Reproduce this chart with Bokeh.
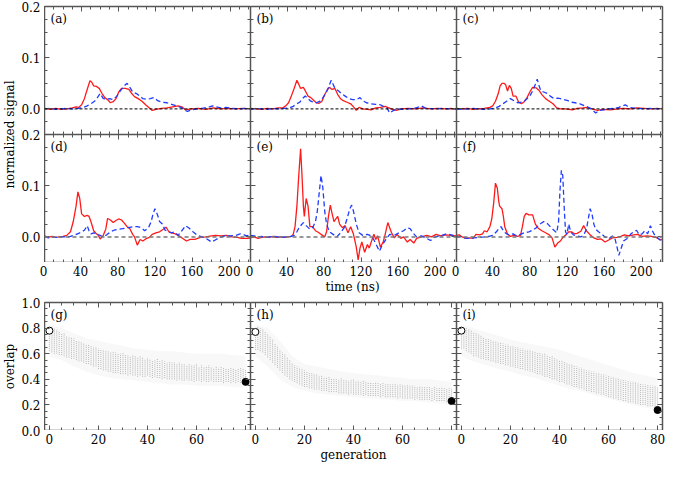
from bokeh.plotting import figure
from bokeh.models import (Range1d, LinearAxis, SingleIntervalTicker, FixedTicker,
                          PrintfTickFormatter, Label, Span, GridPlot, CustomLabelingPolicy)
from bokeh.embed import file_html
from bokeh.resources import INLINE

# ---------------- data ----------------
TIME_RANGE = (0, 222)
SIG_RANGE = (-0.05, 0.2)
GEN_RANGE = (-2, 82)
OVL_RANGE = (0.0, 1.0)

time_tick_labels = [[0, 40, 80, 120, 160, 200]] * 3
sig_tick_labels = [0.0, 0.1, 0.2]
ovl_tick_labels = [0.0, 0.2, 0.4, 0.6, 0.8, 1.0]
gen_tick_labels = [[0, 20, 40, 60], [0, 20, 40, 60], [0, 20, 40, 60, 80]]

panel_letters = [["(a)", "(b)", "(c)"], ["(d)", "(e)", "(f)"], ["(g)", "(h)", "(i)"]]

# time (ns), normalized signal  -- red solid / blue dashed
a_red = [(0,0.001),(6,-0.001),(12,0.001),(18,-0.001),(24,0.0),(30,0.002),(34,0.004),(37,0.003),(40,0.008),(43,0.02),(46,0.038),(49,0.055),(51,0.052),(53,0.045),(56,0.044),(59,0.04),(62,0.03),(65,0.022),(68,0.018),(71,0.012),(74,0.014),(77,0.02),(80,0.033),(83,0.04),(87,0.04),(91,0.038),(94,0.03),(97,0.024),(101,0.02),(105,0.015),(109,0.008),(113,0.002),(116,-0.003),(120,-0.001),(126,0.001),(132,0.002),(138,0.004),(144,0.006),(148,0.004),(152,-0.002),(158,0.0),(166,0.001),(174,-0.001),(182,0.002),(190,0.0),(198,0.001),(206,0.0),(214,0.001),(222,0.0)]
a_blue = [(0,0.0),(6,0.001),(12,-0.001),(18,0.0),(24,0.001),(30,0.0),(36,0.001),(42,0.003),(46,0.006),(50,0.01),(54,0.015),(57,0.022),(60,0.03),(63,0.021),(66,0.018),(70,0.02),(74,0.018),(78,0.025),(82,0.036),(86,0.045),(89,0.05),(92,0.042),(95,0.033),(99,0.03),(102,0.026),(106,0.02),(110,0.019),(114,0.02),(118,0.022),(122,0.016),(127,0.013),(132,0.012),(137,0.009),(142,0.006),(147,0.003),(151,-0.002),(154,-0.005),(158,-0.002),(164,0.0),(170,0.001),(176,0.003),(181,0.006),(185,0.004),(190,0.002),(196,0.003),(202,0.001),(210,0.0),(216,0.001),(222,0.0)]
b_red = [(0,0.001),(6,0.0),(12,-0.001),(18,0.001),(24,0.0),(30,0.002),(35,0.002),(38,0.006),(41,0.012),(44,0.025),(47,0.04),(50,0.056),(52,0.048),(54,0.04),(57,0.042),(60,0.032),(62,0.025),(65,0.022),(68,0.017),(71,0.012),(74,0.011),(77,0.015),(80,0.028),(83,0.038),(85,0.042),(88,0.038),(91,0.04),(94,0.028),(97,0.02),(100,0.016),(104,0.013),(108,0.01),(111,0.004),(114,-0.003),(117,0.003),(121,0.0),(126,-0.001),(130,-0.002),(135,0.002),(140,0.003),(145,0.005),(149,0.002),(153,-0.001),(157,-0.003),(163,0.0),(170,0.001),(178,0.0),(186,0.002),(194,0.0),(202,0.001),(210,0.0),(216,0.001),(222,-0.001)]
b_blue = [(0,-0.001),(6,0.001),(12,0.0),(18,-0.001),(24,0.001),(30,0.0),(36,0.001),(42,0.002),(46,0.005),(50,0.01),(53,0.013),(56,0.02),(59,0.025),(62,0.02),(65,0.015),(68,0.013),(71,0.012),(75,0.015),(78,0.022),(81,0.03),(84,0.042),(87,0.056),(89,0.048),(91,0.04),(95,0.035),(98,0.03),(102,0.025),(106,0.02),(110,0.018),(114,0.018),(118,0.022),(121,0.016),(125,0.012),(130,0.01),(135,0.009),(140,0.008),(144,0.004),(147,0.002),(150,-0.008),(154,-0.003),(158,0.0),(164,-0.001),(170,0.0),(176,0.001),(180,0.003),(184,0.006),(188,0.002),(193,0.001),(200,0.0),(206,0.001),(214,0.0),(222,0.0)]
c_red = [(0,0.001),(6,0.0),(12,0.001),(18,-0.001),(24,0.0),(30,0.001),(36,0.003),(39,0.006),(42,0.015),(45,0.03),(47,0.045),(49,0.05),(51,0.05),(53,0.047),(55,0.035),(57,0.046),(59,0.04),(61,0.025),(64,0.025),(67,0.013),(70,0.01),(73,0.014),(76,0.022),(79,0.033),(82,0.042),(86,0.041),(89,0.036),(92,0.028),(96,0.02),(100,0.015),(104,0.01),(108,0.002),(112,0.0),(117,0.0),(121,-0.001),(125,-0.002),(130,0.001),(136,0.002),(141,0.003),(146,0.0),(152,-0.003),(158,-0.001),(166,-0.002),(174,0.0),(180,0.001),(188,0.0),(194,0.002),(202,0.001),(210,0.0),(216,0.001),(222,0.0)]
c_blue = [(0,0.0),(6,-0.001),(12,0.0),(18,0.001),(24,0.0),(30,-0.001),(36,0.0),(42,0.002),(46,0.005),(50,0.01),(54,0.015),(58,0.02),(62,0.016),(66,0.012),(70,0.013),(73,0.015),(76,0.02),(79,0.025),(82,0.035),(85,0.048),(87,0.058),(89,0.045),(91,0.035),(94,0.033),(98,0.03),(101,0.025),(105,0.02),(109,0.021),(112,0.02),(116,0.018),(120,0.016),(124,0.013),(128,0.012),(133,0.01),(137,0.007),(141,0.004),(145,0.0),(150,-0.008),(154,-0.003),(158,-0.002),(164,0.0),(170,0.001),(175,0.003),(179,0.006),(182,0.008),(186,0.003),(190,0.002),(196,0.001),(202,0.0),(210,0.001),(216,0.0),(222,0.001)]
d_red = [(0,0.002),(4,-0.001),(8,0.001),(12,-0.001),(16,0.0),(20,0.001),(24,0.003),(28,0.01),(31,0.03),(34,0.06),(36,0.088),(38,0.075),(40,0.045),(43,0.04),(46,0.042),(48,0.04),(50,0.03),(53,0.012),(56,0.006),(58,0.003),(60,-0.004),(63,0.002),(66,0.015),(68,0.036),(71,0.033),(74,0.028),(77,0.032),(80,0.035),(83,0.033),(86,0.027),(89,0.02),(92,0.016),(95,0.005),(97,0.0),(100,-0.016),(103,-0.005),(106,-0.008),(109,-0.004),(113,-0.001),(116,0.005),(120,0.008),(124,0.01),(128,0.015),(131,0.019),(134,0.01),(137,0.008),(141,0.006),(145,0.002),(149,-0.003),(153,-0.008),(157,-0.005),(162,-0.005),(168,-0.001),(174,0.0),(180,0.002),(184,0.003),(190,0.002),(196,0.003),(202,0.0),(208,-0.001),(212,-0.003),(218,-0.003),(222,-0.002)]
d_blue = [(0,0.001),(4,-0.002),(8,0.0),(12,-0.001),(18,0.0),(24,0.0),(28,0.001),(33,0.004),(38,0.008),(43,0.013),(46,0.022),(48,0.012),(50,0.006),(53,0.008),(57,0.005),(60,0.003),(63,0.0),(67,0.004),(71,0.01),(75,0.013),(79,0.015),(84,0.016),(90,0.018),(96,0.02),(100,0.02),(104,0.018),(108,0.012),(112,0.018),(115,0.03),(117,0.045),(119,0.055),(122,0.042),(124,0.03),(127,0.025),(130,0.013),(134,0.01),(137,0.008),(140,0.01),(144,0.003),(148,0.012),(152,0.022),(156,0.017),(160,0.01),(165,0.003),(170,0.0),(175,-0.004),(180,-0.01),(184,-0.006),(188,-0.002),(194,0.002),(200,0.002),(206,0.003),(211,0.006),(215,0.004),(218,0.002),(222,0.004)]
e_red = [(0,-0.002),(4,0.0),(8,-0.003),(12,-0.001),(16,0.0),(20,-0.001),(24,0.001),(28,-0.001),(32,0.0),(36,-0.001),(40,0.0),(44,0.001),(46,0.005),(48,0.02),(50,0.06),(52,0.12),(54,0.172),(55.5,0.12),(57,0.06),(58,0.04),(60,0.075),(62,0.06),(64,0.02),(67,0.02),(70,0.012),(73,0.009),(76,0.005),(80,0.0),(82,0.01),(84,0.04),(86,0.062),(88,0.045),(90,0.03),(92,0.035),(94,0.04),(96,0.025),(99,0.018),(102,0.022),(105,0.008),(108,0.02),(111,0.005),(114,-0.02),(116,-0.045),(118,-0.022),(120,-0.01),(123,-0.03),(126,-0.015),(128,-0.022),(131,-0.005),(133,0.005),(135,-0.005),(137,0.002),(140,-0.02),(143,-0.01),(145,0.004),(148,0.028),(150,0.018),(152,0.008),(155,-0.002),(158,0.005),(162,-0.003),(165,0.0),(169,-0.01),(172,-0.005),(176,-0.012),(179,-0.003),(184,0.0),(190,0.003),(195,0.0),(200,0.005),(205,0.002),(210,0.004),(216,0.003),(222,0.002)]
e_blue = [(0,0.003),(4,0.002),(8,0.0),(12,0.001),(16,-0.001),(20,0.0),(26,0.001),(32,-0.001),(38,0.0),(44,0.001),(47,0.003),(50,0.01),(53,0.02),(57,0.028),(60,0.022),(64,0.015),(67,0.018),(70,0.03),(72,0.05),(74,0.085),(76,0.12),(78,0.095),(80,0.05),(82,0.025),(85,0.01),(89,0.005),(93,0.0),(97,0.008),(101,0.018),(104,0.035),(107,0.055),(109,0.062),(111,0.05),(114,0.025),(117,0.008),(121,0.003),(126,0.005),(131,0.001),(135,-0.013),(139,-0.028),(142,-0.016),(146,-0.005),(150,0.005),(155,0.003),(160,0.008),(165,0.012),(169,0.018),(172,0.016),(175,0.008),(179,0.0),(184,0.002),(189,-0.002),(194,-0.007),(199,0.0),(205,0.002),(211,0.006),(216,0.004),(222,0.001)]
f_red = [(0,0.003),(3,0.004),(6,0.0),(10,-0.003),(14,-0.002),(18,-0.003),(21,0.005),(25,0.004),(28,0.006),(30,0.012),(33,0.01),(36,0.02),(38,0.035),(40,0.065),(42,0.105),(44,0.095),(45.5,0.07),(46.5,0.06),(49,0.055),(50.5,0.04),(52,0.02),(55,0.005),(58,0.001),(62,0.003),(66,0.001),(69,0.003),(71,0.02),(73,0.04),(75,0.046),(78,0.043),(82,0.043),(85,0.025),(88,0.017),(92,0.012),(96,0.008),(100,0.004),(103,-0.002),(106,-0.02),(109,-0.012),(112,-0.008),(115,0.0),(118,0.004),(121,0.01),(124,0.01),(127,0.006),(130,0.007),(134,0.011),(137,0.022),(140,0.012),(144,0.004),(148,-0.002),(152,-0.005),(156,-0.004),(160,-0.01),(164,-0.006),(168,-0.002),(173,-0.001),(177,0.001),(181,0.004),(186,0.002),(191,0.004),(195,0.005),(200,0.001),(205,0.002),(210,0.001),(215,-0.001),(219,-0.005),(222,-0.006)]
f_blue = [(0,-0.001),(4,0.001),(8,-0.002),(12,-0.003),(18,-0.002),(24,-0.001),(30,0.0),(35,0.001),(39,0.003),(43,0.01),(46,0.017),(48,0.02),(51,0.01),(54,0.006),(57,0.004),(61,0.006),(65,0.002),(69,0.005),(73,0.008),(78,0.01),(82,0.013),(86,0.018),(90,0.025),(94,0.03),(98,0.026),(102,0.018),(105,0.013),(108,0.008),(110,0.03),(111.5,0.09),(113,0.13),(114.5,0.12),(116,0.06),(117.5,0.01),(119,0.005),(121,0.025),(123,0.01),(126,0.004),(130,0.002),(134,0.0),(137,0.003),(140,0.015),(142,0.035),(144,0.055),(146,0.045),(148,0.025),(150,0.015),(153,0.01),(156,0.006),(160,0.0),(164,-0.004),(168,0.002),(171,-0.005),(173,-0.02),(175,-0.036),(177,-0.025),(180,-0.008),(184,-0.003),(188,0.006),(191,0.01),(194,0.013),(197,0.004),(200,0.006),(203,0.012),(206,0.006),(209,0.022),(211,0.012),(214,0.002),(217,-0.002),(220,-0.007),(222,-0.008)]

# generation, overlap: dense band of the population per generation
generations = list(range(81))
g_hi = [0.80,0.81,0.80,0.79,0.77,0.76,0.76,0.74,0.73,0.73,
        0.72,0.70,0.70,0.69,0.68,0.67,0.67,0.66,0.65,0.65,
        0.64,0.63,0.63,0.62,0.62,0.61,0.62,0.61,0.60,0.60,
        0.61,0.59,0.59,0.58,0.59,0.58,0.57,0.58,0.57,0.56,
        0.57,0.56,0.55,0.55,0.56,0.54,0.55,0.54,0.53,0.54,
        0.53,0.53,0.52,0.53,0.52,0.52,0.51,0.52,0.51,0.51,
        0.52,0.50,0.51,0.50,0.50,0.51,0.50,0.49,0.50,0.49,
        0.50,0.49,0.49,0.48,0.49,0.49,0.48,0.48,0.49,0.48,
        0.48]
g_lo = [0.62,0.61,0.60,0.60,0.59,0.59,0.58,0.57,0.57,0.56,
        0.56,0.55,0.54,0.54,0.53,0.52,0.52,0.51,0.50,0.50,
        0.48,0.48,0.47,0.47,0.46,0.46,0.45,0.45,0.45,0.44,
        0.44,0.44,0.43,0.44,0.43,0.43,0.42,0.43,0.42,0.42,
        0.43,0.42,0.41,0.42,0.41,0.41,0.40,0.41,0.40,0.40,
        0.40,0.40,0.39,0.40,0.39,0.39,0.40,0.39,0.39,0.38,
        0.39,0.39,0.38,0.39,0.38,0.38,0.39,0.38,0.38,0.38,
        0.38,0.37,0.38,0.38,0.37,0.38,0.37,0.38,0.37,0.38,
        0.37]
h_hi = [0.80,0.81,0.80,0.79,0.77,0.75,0.73,0.71,0.68,0.66,
        0.63,0.61,0.60,0.57,0.55,0.53,0.51,0.50,0.49,0.48,
        0.47,0.46,0.45,0.45,0.44,0.44,0.43,0.43,0.42,0.42,
        0.42,0.41,0.41,0.40,0.40,0.41,0.40,0.40,0.39,0.40,
        0.40,0.39,0.39,0.38,0.39,0.38,0.38,0.38,0.37,0.38,
        0.37,0.37,0.37,0.36,0.37,0.36,0.36,0.37,0.36,0.36,
        0.36,0.35,0.36,0.35,0.35,0.35,0.34,0.35,0.34,0.34,
        0.34,0.34,0.33,0.34,0.33,0.33,0.34,0.33,0.33,0.33,
        0.33]
h_lo = [0.63,0.63,0.62,0.61,0.59,0.57,0.55,0.53,0.51,0.49,
        0.47,0.45,0.43,0.42,0.40,0.39,0.38,0.37,0.36,0.35,
        0.34,0.34,0.33,0.33,0.32,0.32,0.32,0.31,0.31,0.31,
        0.30,0.30,0.30,0.30,0.29,0.29,0.29,0.29,0.28,0.29,
        0.28,0.28,0.28,0.28,0.27,0.28,0.27,0.27,0.27,0.27,
        0.27,0.26,0.27,0.26,0.26,0.26,0.26,0.26,0.25,0.26,
        0.25,0.25,0.25,0.25,0.25,0.24,0.25,0.24,0.24,0.24,
        0.24,0.24,0.23,0.24,0.23,0.23,0.23,0.23,0.22,0.23,
        0.22]
i_hi = [0.80,0.81,0.80,0.79,0.78,0.77,0.76,0.75,0.74,0.73,
        0.72,0.72,0.71,0.70,0.70,0.69,0.69,0.68,0.67,0.67,
        0.66,0.66,0.65,0.65,0.64,0.64,0.63,0.63,0.63,0.62,
        0.62,0.61,0.61,0.60,0.60,0.59,0.58,0.58,0.57,0.56,
        0.55,0.55,0.54,0.53,0.52,0.52,0.51,0.50,0.49,0.49,
        0.48,0.47,0.47,0.46,0.46,0.45,0.45,0.44,0.44,0.43,
        0.43,0.42,0.42,0.41,0.41,0.40,0.40,0.39,0.39,0.38,
        0.38,0.38,0.37,0.37,0.36,0.36,0.36,0.35,0.35,0.35,
        0.34]
i_lo = [0.64,0.64,0.62,0.61,0.60,0.58,0.58,0.57,0.56,0.56,
        0.55,0.55,0.54,0.54,0.53,0.53,0.52,0.52,0.51,0.51,
        0.50,0.50,0.49,0.49,0.48,0.48,0.47,0.47,0.46,0.46,
        0.45,0.44,0.44,0.43,0.42,0.42,0.41,0.40,0.40,0.39,
        0.38,0.38,0.37,0.36,0.36,0.35,0.34,0.34,0.33,0.33,
        0.32,0.31,0.31,0.30,0.30,0.29,0.29,0.28,0.28,0.27,
        0.26,0.26,0.25,0.25,0.24,0.24,0.23,0.23,0.22,0.22,
        0.22,0.21,0.21,0.20,0.20,0.20,0.19,0.19,0.19,0.18,
        0.18]
# sparse outliers (every 5 generations)
haze_gen = [0, 5, 10, 15, 20, 25, 30, 35, 40, 45, 50, 55, 60, 65, 70, 75, 80]
g_haze_hi = [0.83,0.80,0.76,0.72,0.70,0.68,0.66,0.64,0.63,0.62,0.62,0.61,0.60,0.60,0.60,0.59,0.58]
g_haze_lo = [0.58,0.55,0.50,0.46,0.43,0.41,0.40,0.39,0.38,0.37,0.36,0.36,0.35,0.35,0.35,0.34,0.34]
h_haze_hi = [0.83,0.80,0.70,0.58,0.52,0.50,0.48,0.46,0.45,0.44,0.43,0.42,0.41,0.40,0.40,0.39,0.38]
h_haze_lo = [0.58,0.50,0.40,0.34,0.31,0.29,0.28,0.27,0.26,0.25,0.25,0.24,0.23,0.23,0.22,0.21,0.20]
i_haze_hi = [0.83,0.80,0.77,0.74,0.71,0.69,0.67,0.65,0.63,0.60,0.57,0.54,0.51,0.48,0.45,0.43,0.41]
i_haze_lo = [0.58,0.54,0.51,0.48,0.46,0.43,0.41,0.38,0.35,0.32,0.30,0.27,0.25,0.22,0.20,0.18,0.16]
start_overlap = [0.78, 0.77, 0.78]   # open circle, generation 0
final_overlap = [0.38, 0.23, 0.16]   # filled dot, generation 80
start_gen, final_gen = 0, 80

signals = [[(a_red, a_blue), (b_red, b_blue), (c_red, c_blue)],
           [(d_red, d_blue), (e_red, e_blue), (f_red, f_blue)]]
bands = [(g_lo, g_hi, g_haze_lo, g_haze_hi),
         (h_lo, h_hi, h_haze_lo, h_haze_hi),
         (i_lo, i_hi, i_haze_lo, i_haze_hi)]

# ---------------- style ----------------
FONT = "DejaVu Serif"
AX = "#555555"
RED = "#ff1a1a"
BLUE = "#1f3cff"
FW, FH = 206, 128
LEFT_W = 39
RIGHT_B = 4
TOP_B = 6

NO_LABELS = "for (const i of Array.from(indices)) { indices.unset(i) }\nreturn indices"

TICK_ONLY = dict(major_label_text_font_size="0px", major_label_standoff=0,
                 major_tick_in=5, major_tick_out=0, minor_tick_in=3, minor_tick_out=0,
                 axis_line_color=AX, axis_line_width=1.5,
                 major_tick_line_color=AX, minor_tick_line_color=AX,
                 major_tick_line_width=1, minor_tick_line_width=1)
LABEL_ONLY = dict(major_label_text_font=FONT, major_label_text_font_size="12px",
                  major_label_text_color="black", major_label_standoff=3,
                  axis_label_text_font=FONT, axis_label_text_font_size="12px",
                  axis_label_text_font_style="normal", axis_label_text_color="black",
                  axis_label_standoff=1,
                  major_tick_in=0, major_tick_out=0, minor_tick_in=0, minor_tick_out=0,
                  axis_line_color=None, major_tick_line_color=None, minor_tick_line_color=None)


def base_fig(**kw):
    p = figure(x_axis_type=None, y_axis_type=None, tools="", toolbar_location=None,
               output_backend="svg", **kw)
    p.outline_line_color = None
    p.background_fill_color = "white"
    p.border_fill_color = "white"
    return p


def make_panel(xr, yr, xint, yint, letter, right=0, top=0):
    p = base_fig(frame_width=FW, frame_height=FH, x_range=Range1d(*xr), y_range=Range1d(*yr),
                 min_border_left=0, min_border_right=right, min_border_top=top, min_border_bottom=0)
    xt = SingleIntervalTicker(interval=xint, num_minor_ticks=4)
    yt = SingleIntervalTicker(interval=yint, num_minor_ticks=4)
    for loc, tk in (("left", yt), ("right", yt), ("below", xt), ("above", xt)):
        p.add_layout(LinearAxis(ticker=tk, major_label_policy=CustomLabelingPolicy(code=NO_LABELS),
                                **TICK_ONLY), loc)
    p.add_layout(Label(x=6, y=FH - 5, x_units="screen", y_units="screen", text=letter,
                       text_baseline="top", text_align="left", text_font=FONT,
                       text_font_size="12px", text_color="black"))
    return p


# ---------------- signal panels ----------------
sig_panels = []
for r in range(2):
    row = []
    for c in range(3):
        p = make_panel(TIME_RANGE, SIG_RANGE, 40, 0.1, panel_letters[r][c],
                       right=RIGHT_B if c == 2 else 0, top=TOP_B if r == 0 else 0)
        if r == 0:
            p.add_layout(Span(location=0, dimension="width", line_color="black",
                              line_width=1, line_dash="3 2"))
        else:
            p.add_layout(Span(location=0, dimension="width", line_color="#777777",
                              line_width=1.5, line_dash="4 3"))
        red, blue = signals[r][c]
        rt, rv = zip(*red)
        bt, bv = zip(*blue)
        p.line(list(rt), list(rv), line_color=RED, line_width=1.3)
        p.line(list(bt), list(bv), line_color=BLUE, line_width=1.3, line_dash="5 3")
        row.append(p)
    sig_panels.append(row)

# ---------------- overlap panels ----------------
ovl_panels = []
for c in range(3):
    p = make_panel(GEN_RANGE, OVL_RANGE, 20, 0.2, panel_letters[2][c],
                   right=RIGHT_B if c == 2 else 0, top=TOP_B)
    lo, hi, hlo, hhi = bands[c]
    p.varea(x=haze_gen, y1=hlo, y2=hhi, fill_color="#a0a0a0", fill_alpha=0.08)
    p.segment(x0=generations, y0=lo, x1=generations, y1=hi, line_color="#8a8a8a",
              line_width=1, line_dash="1 1", line_alpha=0.6)
    p.scatter([start_gen], [start_overlap[c]], marker="circle", size=7,
              fill_color="white", line_color="black", line_width=1)
    p.scatter([final_gen], [final_overlap[c]], marker="circle", size=7,
              fill_color="black", line_color="black")
    ovl_panels.append(p)

# ---------------- shared label axes ----------------
def left_label_axis(yr, ticks, overrides, label, fh, bottom):
    p = base_fig(frame_width=1, frame_height=fh, x_range=Range1d(0, 1), y_range=Range1d(*yr),
                 min_border_left=LEFT_W - 1, min_border_right=0, min_border_top=TOP_B,
                 min_border_bottom=bottom)
    ax = LinearAxis(ticker=FixedTicker(ticks=ticks, minor_ticks=[]),
                    formatter=PrintfTickFormatter(format="%.1f"),
                    major_label_overrides=overrides, axis_label=label, **LABEL_ONLY)
    p.add_layout(ax, "left")
    return p


span = SIG_RANGE[1] - SIG_RANGE[0]
sig_ticks, sig_over = list(sig_tick_labels), {}
for v in sig_tick_labels:
    pos = round(v + span, 6)
    sig_ticks.append(pos)
    sig_over[pos] = "%.1f" % v
left_sig = left_label_axis((SIG_RANGE[0], round(SIG_RANGE[1] + span, 6)), sig_ticks, sig_over,
                           "normalized signal", 2 * FH, 0)
left_ovl = left_label_axis(OVL_RANGE, ovl_tick_labels, {}, "overlap", FH, 10)


def bottom_label_axis(xr, per_panel, label, left):
    w = xr[1] - xr[0]
    ticks, over = [], {}
    for k, tl in enumerate(per_panel):
        for t in tl:
            pos = t + k * w
            ticks.append(pos)
            over[pos] = str(t)
    p = base_fig(frame_width=3 * FW, frame_height=1,
                 x_range=Range1d(xr[0], xr[0] + 3 * w), y_range=Range1d(0, 1),
                 min_border_left=left, min_border_right=RIGHT_B, min_border_top=0,
                 min_border_bottom=28)
    ax = LinearAxis(ticker=FixedTicker(ticks=ticks, minor_ticks=[]),
                    major_label_overrides=over, axis_label=label, **LABEL_ONLY)
    ax.major_label_standoff = 2
    p.add_layout(ax, "below")
    return p


time_axis = bottom_label_axis(TIME_RANGE, time_tick_labels, "time (ns)", LEFT_W)
gen_axis = bottom_label_axis(GEN_RANGE, gen_tick_labels, "generation", 0)

children = [(left_sig, 0, 0, 2, 1)]
for r in range(2):
    for c in range(3):
        children.append((sig_panels[r][c], r, c + 1))
children.append((time_axis, 2, 0, 1, 4))
children.append((left_ovl, 3, 0, 2, 1))
for c in range(3):
    children.append((ovl_panels[c], 3, c + 1))
children.append((gen_axis, 4, 1, 1, 3))

grid = GridPlot(children=children, toolbar_location=None, spacing=0)

open("out.html", "w").write(file_html(grid, INLINE))
